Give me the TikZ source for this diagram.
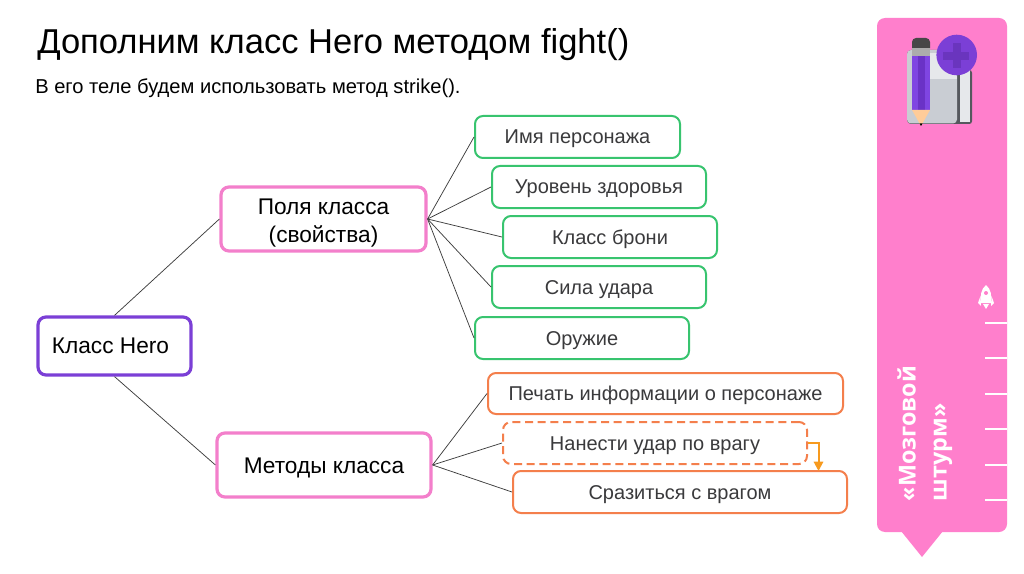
\documentclass[tikz,border=0pt]{standalone}
\usepackage{fontspec}
\setmainfont{Liberation Sans}
\newfontfamily\sidefont{Open Sans}
\usetikzlibrary{arrows.meta}
\definecolor{sidepink}{HTML}{FF7FCC}
\definecolor{boxpink}{HTML}{F37FCB}
\definecolor{boxpurple}{HTML}{7B3FD6}
\definecolor{boxgreen}{HTML}{38C46F}
\definecolor{boxorange}{HTML}{F47F4C}
\definecolor{arroworange}{HTML}{F79A1E}
\definecolor{ink}{HTML}{3A3A3C}
\definecolor{wire}{HTML}{3C3C3C}
\definecolor{pagegray}{HTML}{C9CDD3}
\definecolor{pagelight}{HTML}{E6E8EB}
\definecolor{coverdark}{HTML}{55585E}
\definecolor{pencilbright}{HTML}{7F45E2}
\definecolor{pencilmid}{HTML}{6A32C6}
\definecolor{plusdark}{HTML}{6A35BE}
\def\px{0.75pt}
\tikzset{
  x=0.75pt,y=-0.75pt,
  basebox/.style={draw,fill=white,rounded corners=6pt,inner sep=0pt,align=center,text=ink},
  oneline/.style={text height=1.25em,text depth=0.2em},
  purplebox/.style={basebox,draw=boxpurple,line width=2.4pt,text=black,font=\fontsize{17}{21}\selectfont},
  pinkbox/.style={basebox,draw=boxpink,line width=2.4pt,text=black,font=\fontsize{17}{21}\selectfont},
  greenbox/.style={basebox,oneline,draw=boxgreen,line width=1.5pt,font=\fontsize{15}{18}\selectfont},
  orangebox/.style={basebox,oneline,draw=boxorange,line width=1.5pt,font=\fontsize{15}{18}\selectfont},
  wirelink/.style={draw=wire,line width=0.55pt},
  sidetext/.style={rotate=90,anchor=base west,text=white,inner sep=0pt,font=\sidefont\bfseries\fontsize{17.5}{21}\selectfont},
  ticklight/.style={draw=white,line width=1.5pt},
}
\begin{document}
\begin{tikzpicture}
\useasboundingbox (0,0) rectangle (1024,574);
\fill[white] (0,0) rectangle (1024,574);
% side panel
\fill[sidepink,rounded corners=6pt] (877,18) -- (1007,18) -- (1007,532) -- (877,532) -- cycle;
\fill[sidepink] (901,531) -- (943,531) -- (922,557) -- cycle;
\foreach \yy in {322.5,358,393.5,429,464.5,500}
  \draw[ticklight] (985,\yy) -- (1007,\yy);
\node[sidetext] (side1) at (915.5,501.5) {«Мозговой};
\node[sidetext] (side2) at (946.5,501.5) {штурм»};
% rocket
\fill[white] (986,285) .. controls (991,289) and (992,296) .. (991,303) -- (981,303) .. controls (980,296) and (981,289) .. (986,285) -- cycle;
\fill[white] (980.5,296) -- (978,303) -- (981,306) -- cycle;
\fill[white] (991.5,296) -- (994,303) -- (991,306) -- cycle;
\fill[white] (983,304) -- (989,304) -- (986,309) -- cycle;
\fill[sidepink] (986,293) circle[radius=2];
% notebook icon
\fill[coverdark,rounded corners=2pt] (950,70) rectangle (972,124);
\fill[pagelight] (960,70) rectangle (969.5,122);
\fill[coverdark,rounded corners=3pt] (907,50) rectangle (959,124);
\fill[pagegray,rounded corners=3pt] (907,50) rectangle (957,123.5);
\fill[pagelight] (930,53) rectangle (957,79);
% pencil
\fill[black!72,rounded corners=3pt] (912,38) rectangle (930,52);
\fill[gray!65!white] (912,48) rectangle (930,56);
\fill[pencilbright] (912,56) rectangle (930,110);
\fill[pencilmid] (918,56) rectangle (925,110);
\fill[orange!40!white] (912,110) -- (930,110) -- (921,126) -- cycle;
\fill[black] (919.5,123.5) -- (922.5,123.5) -- (921,126) -- cycle;
% plus badge
\fill[boxpurple] (956.7,55) circle[radius=20.3];
\fill[plusdark] (952.7,43) rectangle (960.7,68);
\fill[plusdark] (943,52) rectangle (969,60);
% headings
\node[anchor=base west,inner sep=0pt,text=black,font=\fontsize{25.9}{30}\selectfont] (title) at (37,54) {Дополним класс Hero методом fight()};
\node[anchor=base west,inner sep=0pt,text=black,font=\fontsize{15.1}{18}\selectfont] (subtitle) at (35,94) {В его теле будем использовать метод strike().};
% boxes
\node[purplebox,oneline,minimum width=153*\px,minimum height=58*\px] (hero) at (114.5,346) {Класс Hero\hspace{6pt}};
\node[pinkbox,minimum width=205*\px,minimum height=64*\px] (fields) at (323.5,219) {\rule{0pt}{18pt}Поля класса\\(свойства)};
\node[pinkbox,oneline,text height=1.4em,minimum width=214*\px,minimum height=64*\px] (methods) at (324,465) {Методы класса};
\node[greenbox,minimum width=205*\px,minimum height=42*\px] (f1) at (577.5,137) {Имя персонажа};
\node[greenbox,minimum width=214*\px,minimum height=42*\px] (f2) at (599,187) {Уровень здоровья};
\node[greenbox,minimum width=214*\px,minimum height=42*\px] (f3) at (610,237) {Класс брони};
\node[greenbox,minimum width=214*\px,minimum height=42*\px] (f4) at (599,287) {Сила удара};
\node[greenbox,minimum width=214*\px,minimum height=42*\px] (f5) at (582,338) {Оружие};
\node[orangebox,minimum width=355*\px,minimum height=41*\px] (m1) at (665.5,393.5) {Печать информации о персонаже};
\node[orangebox,dashed,dash pattern=on 6pt off 3.5pt,minimum width=304*\px,minimum height=42*\px] (m2) at (655,443) {Нанести удар по врагу};
\node[orangebox,minimum width=334*\px,minimum height=42*\px] (m3) at (680,492) {Сразиться с врагом};
% connectors
\draw[wirelink] (hero.north) -- (fields.west);
\draw[wirelink] (hero.south) -- (methods.west);
\foreach \t in {f1,f2,f3,f4,f5}
  \draw[wirelink] (fields.east) -- (\t.west);
\foreach \t in {m1,m2,m3}
  \draw[wirelink] (methods.east) -- (\t.west);
\coordinate (drop) at (818.5,471);
\draw[arroworange,line width=1.5pt,-{Triangle[length=7pt,width=7pt]}] (m2.east) -| (drop);
\end{tikzpicture}
\end{document}
